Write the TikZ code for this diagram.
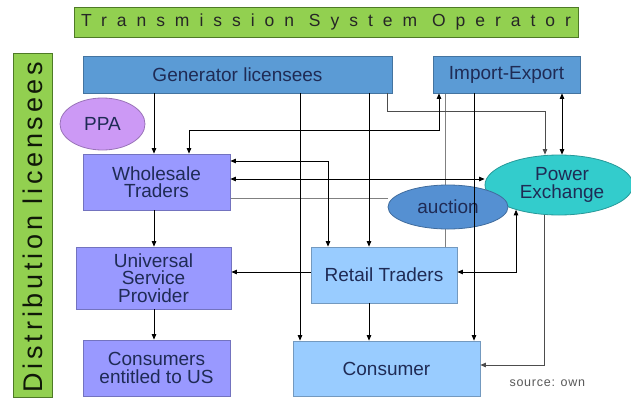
\documentclass[tikz,border=0pt]{standalone}
\usepackage{fontspec}
\setmainfont{Liberation Sans}
\newfontfamily\tsofont[LetterSpace=57]{Liberation Sans}
\newfontfamily\distfont[LetterSpace=14]{Liberation Sans}
\newfontfamily\srcfont[LetterSpace=6]{Liberation Sans}
\usepackage{tikz}
\usetikzlibrary{positioning,arrows.meta,backgrounds,shapes.geometric}
\definecolor{cBar}{HTML}{92D050}
\definecolor{cBarLine}{HTML}{4E7A26}
\definecolor{cGen}{HTML}{5B9BD5}
\definecolor{cPPA}{HTML}{CC99F5}
\definecolor{cTrade}{HTML}{9999FF}
\definecolor{cRetail}{HTML}{99CCFF}
\definecolor{cPX}{HTML}{33CCCC}
\definecolor{cAuct}{HTML}{5590D2}
\definecolor{cTxt}{HTML}{1F2B55}
\definecolor{cWire}{HTML}{808080}
\tikzset{
  blk/.style={draw, line width=0.8pt, align=center, inner sep=2pt,
              text=cTxt, font=\fontsize{19}{17.5}\selectfont},
  bar/.style={draw=cBarLine, fill=cBar, line width=0.8pt, inner sep=0pt, text=black!85},
  genb/.style={blk, draw=cGen!75!black, fill=cGen},
  trade/.style={blk, draw=cTrade!75!black, fill=cTrade},
  retl/.style={blk, draw=cRetail!75!black, fill=cRetail},
  ov/.style={blk, ellipse, inner sep=0pt},
  ar/.style={-{Triangle[length=5.5pt,width=4.5pt]}, line width=0.7pt},
  arb/.style={{Triangle[length=5.5pt,width=4.5pt]}-{Triangle[length=5.5pt,width=4.5pt]}, line width=0.7pt},
  ln/.style={line width=0.7pt},
  lng/.style={line width=0.7pt, cWire},
}

\begin{document}
\begin{tikzpicture}[x=1pt,y=-1pt]
  \useasboundingbox (0,0) rectangle (631,399);
  % the two operator bars
  \node[bar, minimum width=504pt, minimum height=30pt] (tso) at (326,22)
    {\tsofont\fontsize{17.5}{17.5}\selectfont Transmission System Operator};
  \node[bar, minimum width=39pt, minimum height=344pt] (dist) at (32.5,225) {};
  \node[rotate=90, text=black!80!cBarLine] (distlbl) at (33,227)
    {\distfont\fontsize{27}{27}\selectfont Distribution licensees};

  \node[genb, minimum width=309pt, minimum height=37pt] (gen) at (237.5,74.5) {Generator licensees};
  \node[genb, minimum width=147pt, minimum height=37pt] (ie) at (506.5,74.5) {Import-Export};
  \node[ov, draw=cPPA!75!black, fill=cPPA, minimum width=85pt, minimum height=52pt] (ppa) at (102.5,124) {PPA};

  \node[trade, minimum width=147pt, minimum height=56pt] (whole) at (156.5,182) {Wholesale\\Traders};
  \node[trade, minimum width=155pt, minimum height=62pt] (usp) at (153.5,278) {Universal\\Service\\Provider};
  \node[trade, minimum width=147pt, minimum height=56pt] (cus) at (156.5,368) {Consumers\\entitled to US};

  \node[retl, minimum width=146pt, minimum height=56pt] (retail) at (384,275) {Retail Traders};
  \node[retl, minimum width=187pt, minimum height=55pt] (cons) at (386.5,368.5) {Consumer};

  \node[ov, draw=cPX!75!black, fill=cPX, minimum width=148pt, minimum height=60pt] (pe) at (559,185)
    {\hspace*{6pt}Power\\\hspace*{6pt}Exchange};
  \node[ov, draw=cAuct!75!black, fill=cAuct, minimum width=120pt, minimum height=44pt] (auct) at (448,207) {auction};

  \node[text=black!65, anchor=west] (src) at (506,383) {\srcfont\fontsize{12.5}{12.5}\selectfont source: own};

  % wires hidden behind the auction oval
  \begin{scope}[on background layer]
    \fill[white] (0,0) rectangle (631,399);
    \draw[lng] (ie.south -| 445,0) -- (retail.north -| 445,0);
    \draw[lng] (whole.east |- 0,198) -- (auct.west |- 0,198);
  \end{scope}

  % generators
  \draw[ar] (gen.south -| 154,0) -- (whole.north -| 154,0);
  \draw[ar] (gen.south -| 300,0) -- (cons.north -| 300,0);
  \draw[ar] (gen.south -| 369,0) -- (retail.north -| 369,0);
  \draw[ar, cWire!60!black] (gen.south -| 387,0) -- ++(0,18) -| (pe.north -| 545,0);

  % wholesale
  \draw[ar] (whole.south -| 154,0) -- (usp.north -| 154,0);
  \draw[arb] (ie.south -| 439,0) |- (189,130) -- (whole.north -| 189,0);
  \draw[arb] (whole.east |- 0,161) -| (retail.north -| 328,0);
  \draw[arb] (whole.east |- 0,179) -- (pe.west |- 0,179);

  % import-export and power exchange
  \draw[ar] (ie.south -| 474,0) -- (cons.north -| 474,0);
  \draw[arb] (ie.south -| 562,0) -- (pe.north -| 562,0);
  \draw[arb] (retail.east |- 0,272) -| (pe.210);
  \draw[ar, cWire!60!black] (pe.south -| 544,0) |- (cons.east |- 0,365);

  % retail and universal service
  \draw[ar] (retail.west |- 0,272) -- (usp.east |- 0,272);
  \draw[ar] (retail.south -| 369,0) -- (cons.north -| 369,0);
  \draw[ar] (usp.south -| 154,0) -- (cus.north -| 154,0);
\end{tikzpicture}
\end{document}
